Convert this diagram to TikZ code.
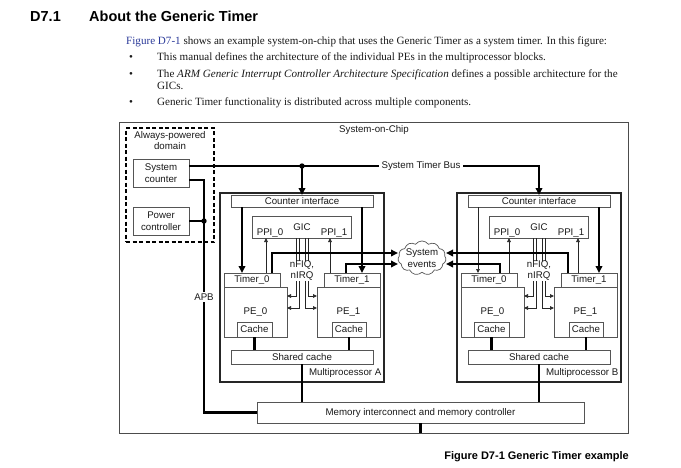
\documentclass[tikz,border=0pt]{standalone}
\usepackage{fontspec}
\setmainfont{Liberation Serif}
\setsansfont{Liberation Sans}
\usetikzlibrary{shapes.symbols,arrows.meta,calc}
\definecolor{linkblue}{HTML}{2B3A9A}
\definecolor{boxgray}{HTML}{555555}
\definecolor{txt}{HTML}{1A1A1A}
\tikzset{
  box/.style={draw=boxgray, line width=0.8pt, fill=white, inner sep=0pt, outer sep=0pt, anchor=north west, text=txt},
  mpbox/.style={box, draw=black!85, line width=1.2pt},
  lbl/.style={inner sep=0.5pt, text=txt},
  thk/.style={line width=2.4pt, black},
  thn/.style={line width=0.7pt, black!85},
  tipT/.style={-{Triangle[length=7pt,width=6.5pt]}},
  tipS/.style={-{Triangle[length=4pt,width=3.6pt]}},
}
\newcommand\mproc[3]{%
 \pgfmathsetmacro\L{#2}%
 \node[mpbox,minimum width=164pt,minimum height=189pt] (#1mp) at (\L,193) {};
 \node[lbl,anchor=east] (#1mplbl) at ({\L+162},373) {Multiprocessor #3};
 \node[box,minimum width=142pt,minimum height=12pt] (#1ci) at ({\L+11},195) {Counter interface};
 \node[box,minimum width=99pt,minimum height=22pt] (#1gic) at ({\L+32},216) {};
 \node[lbl] (#1gict) at ({\L+82},227) {GIC};
 \node[lbl] (#1ppi0) at ({\L+50},233.5) {PPI\_0};
 \node[lbl] (#1ppi1) at ({\L+114},233.5) {PPI\_1};
 \node[box,minimum width=63pt,minimum height=50pt] (#1pe0) at ({\L+4},287) {PE\_0};
 \node[box,minimum width=56pt,minimum height=14pt] (#1t0) at ({\L+4},273) {Timer\_0};
 \node[box,minimum width=35pt,minimum height=15pt] (#1c0) at ({\L+17},322) {Cache};
 \node[box,minimum width=63pt,minimum height=50pt] (#1pe1) at ({\L+97},287) {PE\_1};
 \node[box,minimum width=56pt,minimum height=14pt] (#1t1) at ({\L+104},273) {Timer\_1};
 \node[box,minimum width=34pt,minimum height=15pt] (#1c1) at ({\L+112},322) {Cache};
 \node[box,minimum width=142pt,minimum height=14pt] (#1sc) at ({\L+11},350) {Shared cache};
 \draw[thk] (#1c0.south) -- (#1c0.south |- #1sc.north);
 \draw[thk] (#1c1.south) -- (#1c1.south |- #1sc.north);
 \draw[thk] (#1sc.south) -- (#1sc.south |- mem.north);
 \draw[thk,tipT] ([xshift=131pt]#1ci.south west) -- ([xshift=131pt]#1ci.south west |- #1t1.north);
 \draw[thn,tipS] ([xshift=44pt]#1gic.south west) |- ([yshift=-9pt]#1pe0.north east);
 \draw[thn,tipS] ([xshift=47pt]#1gic.south west) |- ([yshift=-21pt]#1pe0.north east);
 \draw[thn,tipS] ([xshift=56pt]#1gic.south west) |- ([yshift=-9pt]#1pe1.north west);
 \draw[thn,tipS] ([xshift=53pt]#1gic.south west) |- ([yshift=-21pt]#1pe1.north west);
}
\begin{document}
\begin{tikzpicture}[x=1pt,y=-1pt,font=\sffamily\fontsize{9.7}{11.5}\selectfont]
\useasboundingbox (0,0) rectangle (681,467);
\fill[white] (0,0) rectangle (681,467);
% header
\node[anchor=base west,inner sep=0,font=\sffamily\bfseries\fontsize{14.5}{16}\selectfont] (h1) at (30,21) {D7.1};
\node[anchor=base west,inner sep=0,font=\sffamily\bfseries\fontsize{14.5}{16}\selectfont] (h2) at (89,21) {About the Generic Timer};
\begin{scope}[every node/.style={anchor=base west,inner sep=0,text=txt,font=\rmfamily\fontsize{11.1}{13}\selectfont}]
\node (p1) at (126,44) {{\color{linkblue}Figure D7-1} shows an example system-on-chip that uses the Generic Timer as a system timer. In this figure:};
\node (b1) at (129,60) {\textbullet};
\node (p2) at (157,60) {This manual defines the architecture of the individual PEs in the multiprocessor blocks.};
\node (b2) at (129,77) {\textbullet};
\node (p3) at (157,77) {The \textit{ARM Generic Interrupt Controller Architecture Specification} defines a possible architecture for the};
\node (p4) at (157,89) {GICs.};
\node (b3) at (129,105) {\textbullet};
\node (p5) at (157,105) {Generic Timer functionality is distributed across multiple components.};
\end{scope}
% SoC
\node[box,draw=black!70,line width=1pt,minimum width=509pt,minimum height=311pt] (soc) at (119,122) {};
\node[lbl] (socl) at (374,129.5) {System-on-Chip};
\node[draw,line width=2pt,dash pattern=on 4pt off 2.5pt,anchor=north west,inner sep=0,outer sep=0,minimum width=88pt,minimum height=114pt] (apd) at (126,128) {};
\node[lbl,align=center,font=\sffamily\fontsize{9.7}{11}\selectfont] (apdl) at (170,141) {Always-powered\\domain};
\node[box,align=center,minimum width=56pt,minimum height=28pt] (sc) at (133,159) {System\\counter};
\node[box,align=center,minimum width=56pt,minimum height=28pt] (pc) at (133,207) {Power\\controller};
\node[box,minimum width=327pt,minimum height=21pt] (mem) at (257,402) {Memory interconnect and memory controller};
\mproc{A}{220}{A}
\mproc{B}{457}{B}
% MP-specific connectors
\draw[thk,tipT] ([xshift=11pt]Aci.south west) -- ([xshift=11pt]Aci.south west |- At0.north);
\draw[thn,tipS] ([xshift=10pt]Bci.south west) -- ([xshift=10pt]Bci.south west |- Bt0.north);
\draw[thn,tipS] ([xshift=42pt]At0.north west) -- ([xshift=42pt]At0.north west |- Agic.south);
\draw[thn,tipS] ([xshift=6pt]At1.north west) -- ([xshift=6pt]At1.north west |- Agic.south);
\draw[thn,tipS] ([xshift=48pt]Bt0.north west) -- ([xshift=48pt]Bt0.north west |- Bgic.south);
\draw[thn,tipS] ([xshift=17pt]Bt1.north west) -- ([xshift=17pt]Bt1.north west |- Bgic.south);
% system events
\node[cloud,draw=boxgray,line width=0.7pt,fill=white,cloud puffs=11,cloud puff arc=110,aspect=1.6,inner sep=0pt,minimum width=47pt,minimum height=32pt,align=center,text=txt,font=\sffamily\fontsize{9.7}{12}\selectfont] (ev) at (422,258) {System\\events};
\coordinate (evWu) at (398,253);
\coordinate (evWl) at (398,264);
\coordinate (evEu) at (446,253);
\coordinate (evEl) at (446,264);
\draw[thk,tipT] ([xshift=48pt]At0.north west) |- (evWu);
\draw[thk,tipT] ([xshift=22pt]At1.north west) |- (evWl);
\draw[thk,tipT] ([xshift=7pt]Bt1.north west) |- (evEu);
\draw[thk,tipT] ([xshift=39pt]Bt0.north west) |- (evEl);
\node[lbl,fill=white,align=center,font=\sffamily\fontsize{9.7}{11}\selectfont] (Anf) at (302,271) {nFIQ,\\nIRQ};
\node[lbl,fill=white,align=center,font=\sffamily\fontsize{9.7}{11}\selectfont] (Bnf) at (539,271) {nFIQ,\\nIRQ};
% system timer bus
\coordinate (busS) at ([yshift=-7pt]sc.north east);
\draw[thk,tipT] (busS) -| (Bci.north);
\coordinate (jA) at (Aci.north |- busS);
\draw[thk,tipT] (jA) -- (Aci.north);
\fill (jA) circle (2.7pt);
\node[lbl,fill=white,inner xsep=3pt] (busl) at (421,166) {System Timer Bus};
% APB
\coordinate (apbS) at ([yshift=7pt]sc.south east);
\coordinate (apbC) at ($(mem.west)+(-53,0)$);
\draw[thk] (apbS) -| (apbC) -- (mem.west);
\coordinate (jP) at (pc.east -| apbC);
\draw[thk] (pc.east) -- (jP);
\fill (jP) circle (2.7pt);
\node[lbl,fill=white,inner ysep=2pt] (apb) at (204,297) {APB};
\draw[thk] (mem.south) -- (mem.south |- soc.south);
% caption
\node[anchor=base east,inner sep=0,font=\sffamily\bfseries\fontsize{11}{13}\selectfont] (cap) at (629,459) {Figure D7-1 Generic Timer example};
\end{tikzpicture}
\end{document}
